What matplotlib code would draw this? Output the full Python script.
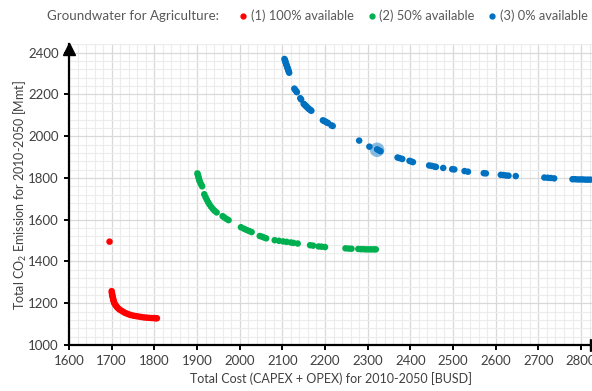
import matplotlib.pyplot as plt
from matplotlib.lines import Line2D
from matplotlib.ticker import MultipleLocator

plt.rcParams['font.family'] = ['Lato', 'DejaVu Sans']

### Data
# (1) 100% groundwater available
red_x = [1695, 1700, 1700.5, 1701, 1701.5, 1702, 1703, 1703.5, 1704, 1705, 1706, 1707, 1709,
         1711, 1713, 1716, 1719, 1723, 1727, 1731, 1736, 1741, 1746, 1752, 1758, 1764,
         1770, 1776, 1782, 1788, 1794, 1799, 1803, 1806]
red_y = [1495, 1258, 1250, 1244, 1238, 1232, 1226, 1220, 1214, 1208, 1202, 1197, 1191,
         1186, 1180, 1174, 1169, 1164, 1159, 1154, 1150, 1146, 1143, 1140, 1138, 1136,
         1134, 1132, 1131, 1130, 1129, 1129, 1128, 1128]

# (2) 50% available
green_x = [1901, 1902, 1903, 1904, 1905, 1906, 1908, 1910, 1912,
           1917, 1920, 1923, 1926, 1929, 1933, 1937, 1941, 1946,
           1960, 1964, 1969, 1974,
           2003, 2010, 2016, 2022, 2028,
           2047, 2052, 2057, 2062,
           2082, 2092, 2102, 2110, 2120, 2126, 2136,
           2165, 2172, 2185, 2192, 2200,
           2248, 2255, 2262,
           2278, 2284, 2290, 2296, 2302, 2308, 2314, 2319]
green_y = [1822, 1815, 1808, 1800, 1793, 1785, 1776, 1768, 1760,
           1722, 1708, 1696, 1684, 1674, 1662, 1652, 1643, 1635,
           1617, 1611, 1604, 1598,
           1564, 1557, 1551, 1546, 1541,
           1522, 1519, 1515, 1511,
           1502, 1499, 1496, 1494, 1491, 1489, 1486,
           1478, 1476, 1472, 1471, 1469,
           1463, 1462, 1461,
           1460, 1459, 1459, 1458, 1458, 1458, 1458, 1458]

# (3) 0% available
blue_x = [2105, 2106, 2107, 2108, 2109, 2110, 2111, 2112, 2113, 2114, 2115, 2116,
          2128, 2130, 2132, 2134, 2142, 2144,
          2150, 2152, 2154, 2156, 2158, 2160, 2162, 2164, 2166, 2168,
          2195, 2198, 2201, 2204, 2207, 2215, 2218,
          2280, 2304, 2322, 2326, 2330,
          2370, 2375, 2381, 2398, 2402, 2406,
          2444, 2450, 2456, 2460, 2477, 2498, 2503, 2527, 2535, 2572, 2577,
          2612, 2618, 2624, 2630, 2647,
          2714, 2722, 2729, 2737,
          2780, 2786, 2792, 2798, 2804, 2810, 2816, 2822]
blue_y = [2370, 2364, 2358, 2352, 2346, 2340, 2334, 2328, 2322, 2316, 2310, 2304,
          2228, 2222, 2217, 2211, 2182, 2176,
          2155, 2151, 2147, 2143, 2139, 2135, 2131, 2128, 2125, 2122,
          2076, 2073, 2070, 2066, 2063, 2052, 2049,
          1979, 1950, 1937, 1933, 1928,
          1898, 1895, 1891, 1882, 1879, 1876,
          1860, 1858, 1855, 1853, 1848, 1842, 1841, 1833, 1830, 1823, 1822,
          1815, 1814, 1812, 1811, 1809,
          1802, 1801, 1800, 1798,
          1794, 1794, 1793, 1793, 1793, 1792, 1792, 1792]

# highlighted solution
sel_x = [2322]
sel_y = [1935]

labels = ['(1) 100% available', '(2) 50% available', '(3) 0% available']
colors = ['#FF0000', '#00B050', '#0070C0']
text_col = '#404040'

fig = plt.figure(figsize=(5.92, 3.91), dpi=100)
ax = fig.add_axes([69/592, 1 - 345/391, 1 - 69/592, (345 - 44)/391])

for xs, ys, c in zip([red_x, green_x, blue_x], [red_y, green_y, blue_y], colors):
    ax.scatter(xs, ys, s=22, color=c, edgecolors='none', zorder=3)
ax.scatter(sel_x, sel_y, s=110, color='#0070C0', alpha=0.45, edgecolors='none', zorder=4)

ax.set_xlim(1600, 1600 + 523/0.4267)
ax.set_ylim(1000, 2400 + 8.7/0.2088)
ax.xaxis.set_major_locator(MultipleLocator(100))
ax.xaxis.set_minor_locator(MultipleLocator(20))
ax.yaxis.set_major_locator(MultipleLocator(200))
ax.yaxis.set_minor_locator(MultipleLocator(40))
ax.grid(which='major', color='#d9d9d9', lw=0.9, zorder=0)
ax.grid(which='minor', color='#ececec', lw=0.8, zorder=0)
ax.set_axisbelow(True)

for s in ['top', 'right']:
    ax.spines[s].set_visible(False)
for s in ['left', 'bottom']:
    ax.spines[s].set_linewidth(1.6)
    ax.spines[s].set_color('black')
ax.tick_params(which='major', direction='out', length=3.5, width=1.4, color='black',
               labelsize=9.5, labelcolor=text_col, pad=4)
ax.tick_params(which='minor', length=0)

# axis arrows
ax.plot(0, 0.983, marker='^', ms=9, color='black', transform=ax.transAxes, clip_on=False)
ax.plot(1.008, 0, marker='>', ms=9, color='black', transform=ax.transAxes, clip_on=False)

ax.set_xlabel('Total Cost (CAPEX + OPEX) for 2010-2050 [BUSD]', fontsize=9, color=text_col, labelpad=3)
ax.set_ylabel(r'Total CO$\mathregular{_2}$ Emission for 2010-2050 [Mmt]', fontsize=9, color=text_col, labelpad=-1)

# legend on top
fig.text(47/592, 1 - 16/391, 'Groundwater for Agriculture:', fontsize=9.6, color='#595959',
         ha='left', va='center')
handles = [Line2D([], [], ls='none', marker='o', ms=3.5, color=c) for c in colors]
leg = fig.legend(handles, labels, loc='center right', bbox_to_anchor=(0.995, 1 - 16/391),
                 ncol=3, frameon=False, fontsize=9.3, handlelength=0.8, handletextpad=0.2,
                 columnspacing=0.95, borderaxespad=0, borderpad=0.1)
for t in leg.get_texts():
    t.set_color('#595959')

fig.savefig('out.png', dpi=100)
